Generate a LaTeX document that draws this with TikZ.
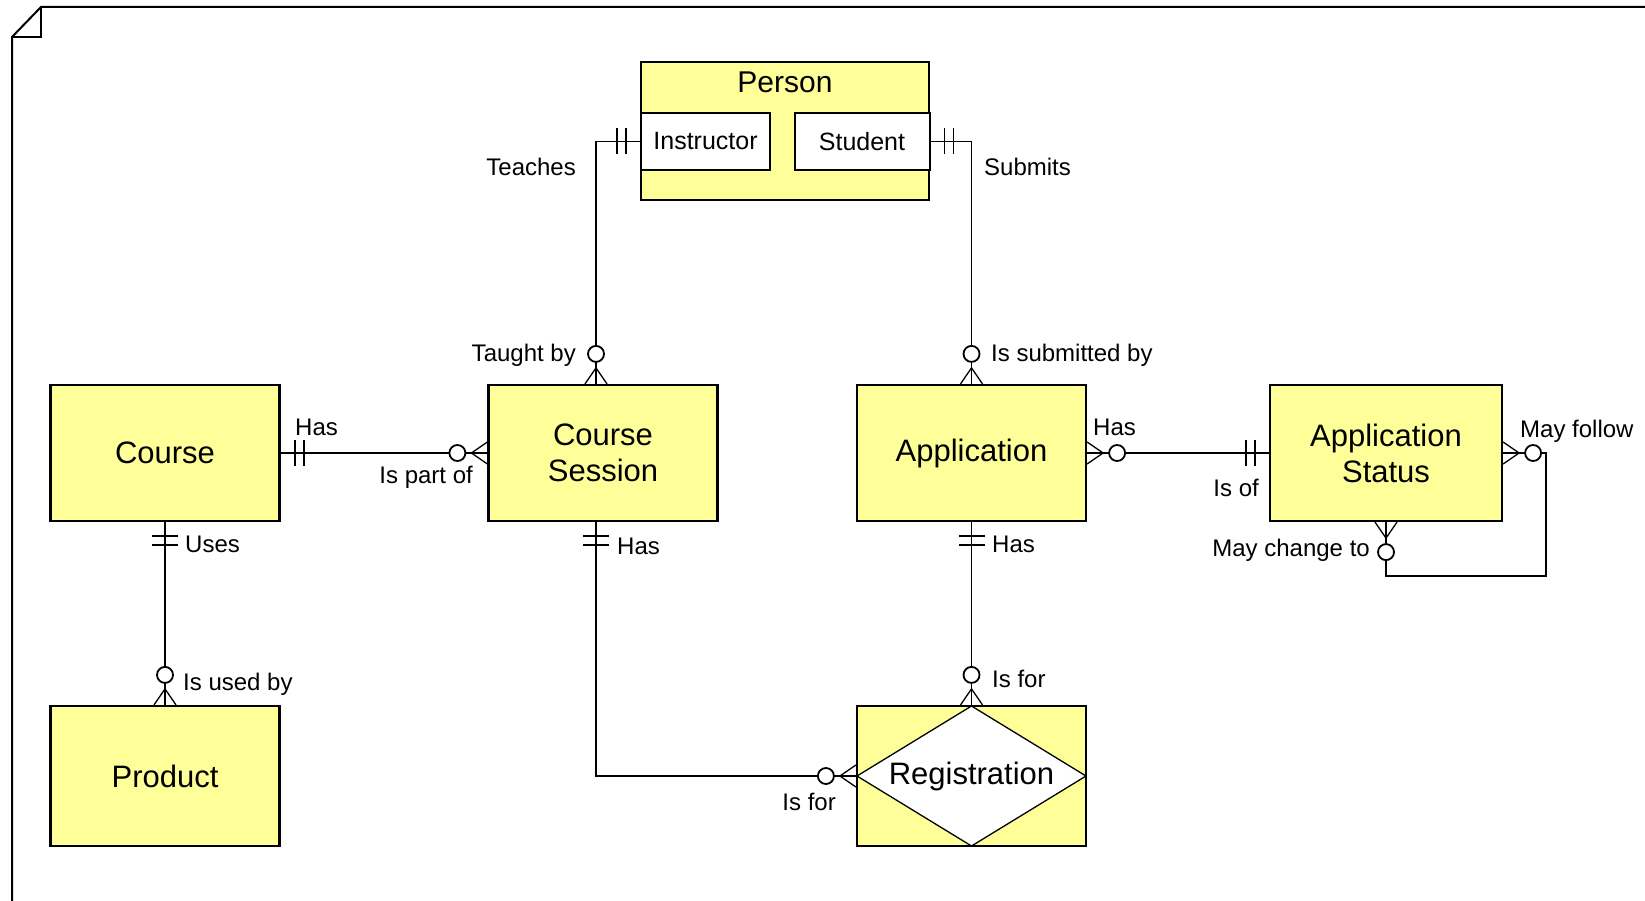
\documentclass[tikz,border=0pt]{standalone}
\usepackage{fontspec}
\setmainfont{Liberation Sans}
\usepackage{tikz}
\usetikzlibrary{arrows.meta}
\definecolor{erfill}{RGB}{255,255,153}

\tikzset{
    rel/.style={line width=1.8pt},
    entity/.style={draw, line width=2.2pt, fill=erfill, minimum width=229pt, minimum height=136pt,
        align=center, font=\fontsize{31}{36}\selectfont},
    sub/.style={draw, line width=2pt, fill=white, minimum height=57pt, font=\fontsize{25}{28}\selectfont},
    lbl/.style={inner sep=0pt, font=\fontsize{24}{26}\selectfont},
    % exactly one: two bars across the line
    pics/onlyone/.style={code={
        \draw[rel] (14,-13) -- (14,13) (23,-13) -- (23,13);
    }},
    % zero or many: crow's foot and a ring
    pics/zeromany/.style={code={
        \draw[line width=1.3pt] (0,-11) -- (16,0) -- (0,11);
        \draw[rel] (0,0) -- (22,0);
        \draw[rel, fill=white] (30,0) circle (8);
    }},
}

\begin{document}
\begin{tikzpicture}[x=1pt, y=-1pt]
    \useasboundingbox (0,0) rectangle (1645,901);

    % page frame with folded corner
    \draw[line width=2pt] (12,920) -- (12,37) -- (41,7) -- (1660,7);
    \draw[line width=2pt] (41,7) -- (41,37) -- (12,37);

    % entities
    \node[draw, line width=2.2pt, fill=erfill, minimum width=288pt, minimum height=138pt] (person) at (785,131) {};
    \node[font=\fontsize{30}{32}\selectfont] (ptitle) at (785,82) {Person};
    \node[sub, minimum width=129pt] (instr) at (705.5,141.5) {Instructor};
    \node[sub, minimum width=135pt] (stud) at (862,141.5) {Student};

    \node[entity] (course) at (165,453) {Course};
    \node[entity] (session) at (603,453) {Course\\Session};
    \node[entity] (app) at (971.5,453) {Application};
    \node[entity, minimum width=232pt] (status) at (1386,453) {Application\\Status};
    \node[entity, minimum height=140pt] (product) at (165,776) {Product};
    \node[entity, minimum height=140pt,
        path picture={\draw[line width=1.3pt, fill=white]
            (path picture bounding box.north) -- (path picture bounding box.east) --
            (path picture bounding box.south) -- (path picture bounding box.west) -- cycle;}]
        (reg) at (971.5,776) {Registration};

    \coordinate (loop) at (1546,576);

    % relationships
    \draw[rel] (instr.west) -| ([xshift=-7pt]session.north);
    \draw[rel] (stud.east) -| (app.north);
    \draw[rel] (course.east) -- (session.west);
    \draw[rel] (course.south) -- (product.north);
    \draw[rel] ([xshift=-7pt]session.south) |- (reg.west);
    \draw[rel] (app.south) -- (reg.north);
    \draw[rel] (app.east) -- (status.west);
    \draw[rel] (status.east) -| (loop) -| (status.south);

    % cardinality ends
    \pic[rotate=180] at (instr.west) {onlyone};
    \pic[rotate=90] at ([xshift=-7pt]session.north) {zeromany};
    \pic at (stud.east) {onlyone};
    \pic[rotate=90] at (app.north) {zeromany};
    \pic at (course.east) {onlyone};
    \pic[rotate=180] at (session.west) {zeromany};
    \pic[rotate=-90] at (course.south) {onlyone};
    \pic[rotate=90] at (product.north) {zeromany};
    \pic[rotate=-90] at ([xshift=-7pt]session.south) {onlyone};
    \pic[rotate=180] at (reg.west) {zeromany};
    \pic[rotate=-90] at (app.south) {onlyone};
    \pic[rotate=90] at (reg.north) {zeromany};
    \pic at (app.east) {zeromany};
    \pic[rotate=180] at (status.west) {onlyone};
    \pic at (status.east) {zeromany};
    \pic[rotate=-90] at (status.south) {zeromany};

    % role names
    \node[lbl, anchor=east] (teaches) at (576,167) {Teaches};
    \node[lbl, anchor=west] (submits) at (984,167) {Submits};
    \node[lbl, anchor=east] (taught) at (576,355) {Taught by};
    \node[lbl, anchor=west] (subby) at (991,355) {Is submitted by};
    \node[lbl, anchor=west] (chas) at (295,427) {Has};
    \node[lbl, anchor=east] (partof) at (473,477) {Is part of};
    \node[lbl, anchor=west] (uses) at (185,544) {Uses};
    \node[lbl, anchor=west] (usedby) at (183,684) {Is used by};
    \node[lbl, anchor=west] (shas) at (617,546) {Has};
    \node[lbl, anchor=east] (rfor) at (836,802) {Is for};
    \node[lbl, anchor=west] (ahas) at (992,544) {Has};
    \node[lbl, anchor=west] (afor) at (992,679) {Is for};
    \node[lbl, anchor=west] (shas2) at (1093,427) {Has};
    \node[lbl, anchor=east] (isof) at (1259,488) {Is of};
    \node[lbl, anchor=west] (follow) at (1520,431) {May follow};
    \node[lbl, anchor=east] (change) at (1370,550) {May change to};
\end{tikzpicture}
\end{document}
